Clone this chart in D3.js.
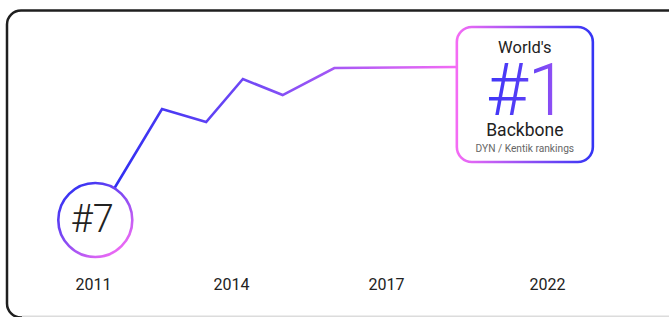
<!DOCTYPE html>
<html>
<head>
<meta charset="utf-8">
<script src="https://cdn.jsdelivr.net/npm/d3@7"></script>
<style>
  body { margin: 0; background: #fff; }
  svg { display: block; font-family: Roboto, "Noto Sans", sans-serif; }
</style>
</head>
<body>
<div id="chart"></div>
<script>
// tick labels on the axis and their slightly uneven spacing in the picture
var tickYears = [2011, 2014, 2017, 2022];
var tickPos = [93, 231, 386, 547];

// ranking trajectory: fractional year, rank
var pathYears = [2011.05, 2012.5, 2013.46, 2014.23, 2015, 2016, 2019.2];
var pathRanks = [7, 2.65, 3.16, 1.47, 2.1, 1.04, 1];

var startLabel = "#7";
var endLabel = ["World's", "#1", "Backbone", "DYN / Kentik rankings"];

var svgWidth = 669;
var svgHeight = 317;

var svg = d3.select("#chart")
  .append("svg")
  .attr("width", svgWidth)
  .attr("height", svgHeight);

var defs = svg.append("defs");

function grad(id, x1, y1, x2, y2, stops, userSpace) {
  var g = defs.append("linearGradient")
    .attr("id", id)
    .attr("x1", x1).attr("y1", y1)
    .attr("x2", x2).attr("y2", y2);
  if (userSpace) g.attr("gradientUnits", "userSpaceOnUse");
  stops.forEach(function(s) {
    g.append("stop").attr("offset", s[0]).attr("stop-color", s[1]);
  });
}

grad("lineGrad", 110, 0, 457, 0, [[0, "#2e2ef2"], [0.45, "#7a4cf6"], [1, "#f46cf4"]], true);
grad("circleGrad", "15%", "5%", "85%", "95%", [[0, "#3131f3"], [0.5, "#8a4cf3"], [1, "#f46cf4"]]);
grad("boxGrad", "0%", "0%", "100%", "0%", [[0, "#f46cf4"], [1, "#3535f5"]]);
grad("numGrad", "0%", "0%", "100%", "0%", [[0, "#3d35f7"], [0.5, "#5a3ff6"], [1, "#ad58f3"]]);

// outer frame (cropped at bottom / right)
svg.append("rect")
  .attr("x", 7).attr("y", 10.5)
  .attr("width", 720).attr("height", 307)
  .attr("rx", 14)
  .attr("fill", "#fff")
  .attr("stroke", "#1f1f1f")
  .attr("stroke-width", 2.5);
svg.append("rect")
  .attr("x", 22).attr("y", 315.5)
  .attr("width", 660).attr("height", 1.5)
  .attr("fill", "#dcdcdc");

// scales
var x = d3.scaleLinear().domain(tickYears).range(tickPos);
var y = d3.scaleLinear().domain([7, 1]).range([220, 67]);

// year axis
var xAxis = d3.axisBottom(x)
  .tickValues(tickYears)
  .tickFormat(d3.format("d"))
  .tickSize(0)
  .tickPadding(0);

var axisG = svg.append("g")
  .attr("transform", "translate(0,279)")
  .call(xAxis);
axisG.select(".domain").remove();
axisG.selectAll("text")
  .attr("fill", "#222")
  .attr("font-size", 16)
  .attr("font-family", "Roboto, sans-serif");

// line
var pts = pathYears.map(function(d, i) { return [d, pathRanks[i]]; });
var line = d3.line()
  .x(function(d) { return x(d[0]); })
  .y(function(d) { return y(d[1]); });

svg.append("path")
  .datum(pts)
  .attr("d", line)
  .attr("fill", "none")
  .attr("stroke", "url(#lineGrad)")
  .attr("stroke-width", 2.6)
  .attr("stroke-linejoin", "miter");

// start badge
var c0 = pts[0];
svg.append("circle")
  .attr("cx", x(c0[0]))
  .attr("cy", y(c0[1]))
  .attr("r", 37)
  .attr("fill", "#fff")
  .attr("stroke", "url(#circleGrad)")
  .attr("stroke-width", 2.6);

svg.append("text")
  .attr("x", x(c0[0]) - 3)
  .attr("y", y(c0[1]) + 12)
  .attr("text-anchor", "middle")
  .attr("font-size", 38)
  .attr("font-weight", 300)
  .attr("fill", "#222")
  .text(startLabel);

// end badge
var c1 = pts[pts.length - 1];
var bx = x(c1[0]), by = y(c1[1]);
var box = svg.append("g");
box.append("rect")
  .attr("x", bx).attr("y", 27)
  .attr("width", 136).attr("height", 135)
  .attr("rx", 15)
  .attr("fill", "#fff")
  .attr("stroke", "url(#boxGrad)")
  .attr("stroke-width", 2.6);

var cx = bx + 68;
box.append("text")
  .attr("x", cx).attr("y", 53)
  .attr("text-anchor", "middle")
  .attr("font-size", 16.5)
  .attr("fill", "#222")
  .text(endLabel[0]);
box.append("text")
  .attr("x", cx + 2).attr("y", 115)
  .attr("text-anchor", "middle")
  .attr("font-size", 72)
  .attr("font-weight", 300)
  .attr("fill", "url(#numGrad)")
  .text(endLabel[1]);
box.append("text")
  .attr("x", cx).attr("y", 136)
  .attr("text-anchor", "middle")
  .attr("font-size", 17.5)
  .attr("fill", "#222")
  .text(endLabel[2]);
box.append("text")
  .attr("x", cx).attr("y", 152)
  .attr("text-anchor", "middle")
  .attr("font-size", 10.2)
  .attr("fill", "#666")
  .text(endLabel[3]);
</script>
</body>
</html>
